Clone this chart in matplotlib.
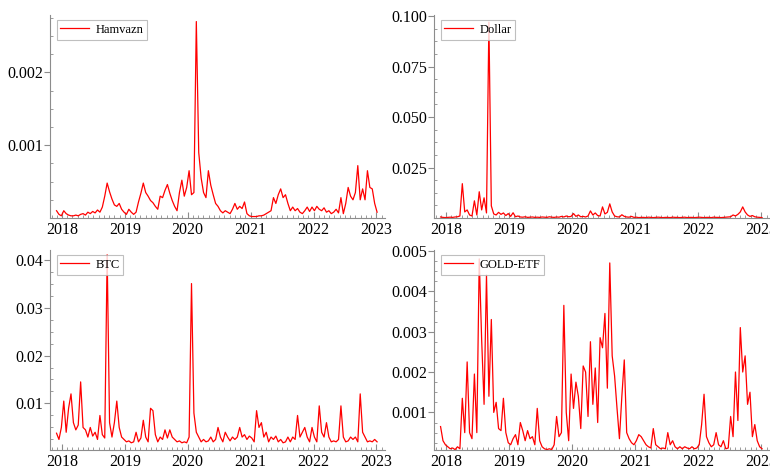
import numpy as np
import pandas as pd
import matplotlib
matplotlib.use('Agg')
import matplotlib.pyplot as plt
import matplotlib.dates as mdates
from matplotlib.ticker import FixedLocator, AutoMinorLocator, FormatStrFormatter

plt.rcParams['font.family'] = ['Liberation Serif', 'DejaVu Serif']

# two-week observations, first one on 2017-11-30
start = '2017-11-30'

# Hamvazn, units of 1e-4
hamvazn = np.array([
    1.0, 0.5, 0.3, 1.0, 0.6, 0.4, 0.3, 0.3, 0.4, 0.3,
    0.5, 0.6, 0.4, 0.8, 0.6, 0.9, 0.7, 1.1, 0.8, 1.5,
    3.0, 4.8, 3.6, 2.6, 1.8, 1.6, 2.0, 1.2, 0.8, 0.5,
    1.2, 0.8, 0.5, 0.8, 2.2, 3.4, 4.8, 3.5, 3.0, 2.4,
    2.1, 1.6, 1.2, 3.0, 2.8, 3.8, 4.6, 3.4, 2.4, 1.6,
    1.0, 3.5, 5.2, 3.0, 4.2, 6.5, 3.2, 3.5, 27.0, 9.0,
    5.5, 3.5, 2.8, 6.5, 4.5, 3.2, 2.0, 1.6, 1.0, 0.7,
    1.0, 0.8, 0.6, 1.2, 2.0, 1.2, 1.6, 1.3, 2.2, 0.6,
    0.3, 0.2, 0.2, 0.2, 0.3, 0.3, 0.4, 0.6, 0.8, 1.0,
    2.8, 2.0, 3.2, 4.0, 2.8, 3.2, 2.0, 1.0, 1.5, 1.0,
    1.3, 0.8, 0.6, 1.0, 1.5, 0.9, 1.5, 1.0, 1.6, 1.2,
    1.0, 1.4, 0.8, 1.0, 0.6, 0.8, 1.2, 0.7, 2.8, 0.6,
    2.0, 4.2, 3.0, 2.5, 3.5, 7.2, 2.5, 4.0, 2.5, 6.5,
    4.2, 4.0, 2.0, 0.8]) * 1e-4

# Dollar, units of 1e-3
dollar = np.array([
    0.5, 0.3, 0.2, 0.3, 0.4, 0.3, 0.5, 0.6, 1.0, 17.0,
    3.0, 4.0, 1.5, 1.0, 8.5, 1.5, 13.0, 4.0, 10.0, 2.5,
    97.0, 6.0, 2.0, 1.5, 2.8, 1.8, 2.5, 1.2, 2.2, 0.8,
    2.6, 0.6, 1.0, 0.5, 0.4, 0.6, 0.3, 0.4, 0.5, 0.3,
    0.4, 0.3, 0.5, 0.4, 0.3, 0.6, 0.4, 0.3, 0.5, 0.4,
    0.8, 0.5, 1.0, 0.6, 0.8, 2.2, 0.8, 1.5, 0.6, 0.8,
    0.5, 1.0, 3.5, 1.5, 2.5, 1.2, 1.0, 5.5, 2.0, 2.8,
    7.0, 3.0, 1.0, 0.6, 0.5, 1.6, 0.8, 0.5, 0.4, 0.8,
    0.3, 0.4, 0.2, 0.3, 0.3, 0.2, 0.4, 0.3, 0.2, 0.3,
    0.4, 0.3, 0.2, 0.3, 0.3, 0.2, 0.4, 0.3, 0.3, 0.2,
    0.3, 0.4, 0.2, 0.3, 0.3, 0.2, 0.3, 0.4, 0.3, 0.2,
    0.3, 0.3, 0.2, 0.4, 0.3, 0.3, 0.2, 0.3, 0.4, 0.5,
    0.6, 1.5, 1.0, 1.8, 3.0, 5.5, 3.0, 1.5, 0.8, 1.2,
    0.6, 0.4, 0.3, 0.2]) * 1e-3

# BTC, units of 1e-3
btc = np.array([
    3.8, 2.5, 5.0, 10.5, 4.0, 9.0, 12.0, 6.0, 4.5, 5.5,
    14.5, 5.0, 4.5, 3.0, 5.0, 3.2, 4.0, 2.5, 7.5, 3.5,
    2.8, 41.0, 6.0, 3.0, 6.0, 10.5, 5.0, 3.0, 2.5, 2.0,
    2.2, 1.8, 2.0, 4.0, 2.0, 2.8, 6.5, 3.0, 2.0, 9.0,
    8.5, 3.5, 2.0, 3.0, 2.5, 4.5, 2.8, 4.5, 3.0, 2.5,
    2.0, 2.2, 1.8, 2.0, 1.8, 3.0, 35.0, 8.0, 4.0, 3.0,
    2.0, 2.5, 2.0, 2.2, 3.0, 2.0, 2.5, 5.0, 3.0, 2.0,
    4.0, 3.0, 2.2, 3.0, 2.5, 3.0, 5.0, 3.0, 3.5, 2.5,
    3.2, 2.8, 2.0, 8.5, 5.0, 6.0, 3.0, 4.0, 2.0, 3.0,
    2.5, 3.2, 2.0, 2.5, 1.8, 2.0, 3.0, 2.0, 3.0, 2.5,
    7.5, 3.0, 4.0, 5.0, 3.0, 2.0, 5.0, 3.0, 2.0, 9.5,
    4.0, 3.0, 6.0, 3.0, 2.0, 2.2, 2.0, 2.5, 9.5, 3.0,
    2.0, 2.2, 3.0, 2.5, 3.0, 2.0, 12.0, 4.0, 3.0, 2.0,
    2.2, 2.0, 2.5, 2.0]) * 1e-3

# GOLD-ETF, units of 1e-4
gold_etf = np.array([
    6.5, 3.0, 2.0, 1.5, 1.0, 1.2, 0.8, 1.5, 1.0, 13.5,
    5.0, 22.5, 5.0, 3.5, 19.5, 5.0, 48.0, 28.0, 12.0, 44.0,
    14.0, 33.0, 10.0, 12.5, 6.0, 5.5, 13.5, 5.0, 2.5, 2.0,
    3.5, 4.5, 2.0, 7.5, 5.5, 3.0, 5.5, 3.5, 4.0, 2.0,
    11.0, 3.0, 1.5, 1.0, 0.8, 1.0, 0.8, 2.0, 9.0, 4.0,
    5.0, 36.5, 10.0, 3.0, 19.5, 11.0, 17.5, 14.0, 6.0, 21.5,
    20.0, 9.0, 27.5, 12.0, 21.0, 7.5, 28.5, 26.0, 34.5, 16.0,
    47.0, 24.0, 19.0, 11.0, 3.5, 14.0, 23.0, 5.0, 3.5, 2.5,
    2.0, 3.0, 4.5, 4.0, 3.0, 2.0, 1.5, 1.2, 6.0, 2.0,
    1.5, 1.0, 1.2, 1.0, 5.0, 2.0, 3.0, 1.5, 1.0, 1.5,
    1.0, 1.5, 1.2, 1.0, 1.5, 1.0, 1.2, 2.0, 7.0, 14.5,
    4.0, 2.5, 1.5, 2.0, 5.0, 2.0, 1.5, 3.0, 1.0, 1.2,
    9.0, 4.0, 20.0, 8.0, 31.0, 20.0, 24.0, 12.0, 15.0, 4.0,
    7.0, 3.0, 1.5, 1.0]) * 1e-4

hamvazn_ticks = [0.001, 0.002]
dollar_ticks = [0.025, 0.050, 0.075, 0.100]
btc_ticks = [0.01, 0.02, 0.03, 0.04]
gold_ticks = [0.001, 0.002, 0.003, 0.004, 0.005]

axis_grey = '#8c8c8c'


def panel(ax, values, name, ylim, ticks, fmt):
    dates = pd.date_range(start, periods=len(values), freq='14D')
    ax.plot(dates, values, color='#ff0000', lw=0.9, label=name)
    ax.set_xlim(pd.Timestamp('2017-10-23'), pd.Timestamp('2023-02-20'))
    ax.set_ylim(*ylim)

    ax.xaxis.set_major_locator(mdates.YearLocator())
    ax.xaxis.set_major_formatter(mdates.DateFormatter('%Y'))
    ax.xaxis.set_minor_locator(mdates.MonthLocator())
    ax.yaxis.set_major_locator(FixedLocator(ticks))
    ax.yaxis.set_major_formatter(FormatStrFormatter(fmt))
    ax.yaxis.set_minor_locator(AutoMinorLocator(4))

    for side in ['top', 'right']:
        ax.spines[side].set_visible(False)
    for side in ['left', 'bottom']:
        ax.spines[side].set_color(axis_grey)
        ax.spines[side].set_linewidth(0.8)

    ax.tick_params(axis='y', which='major', direction='out', length=4,
                   color=axis_grey, labelsize=11.5, pad=1)
    ax.tick_params(axis='y', which='minor', direction='in', length=2.5,
                   color=axis_grey)
    ax.tick_params(axis='x', which='major', direction='in', length=4,
                   color=axis_grey, labelsize=11.5, pad=3)
    ax.tick_params(axis='x', which='minor', direction='in', length=2.5,
                   color=axis_grey)

    leg = ax.legend(loc='upper left', bbox_to_anchor=(0.02, 0.975),
                    fontsize=9, frameon=True, fancybox=False,
                    borderpad=0.3, handlelength=2.3, handletextpad=0.5,
                    borderaxespad=0)
    leg.get_frame().set_edgecolor('#b0b0b0')
    leg.get_frame().set_linewidth(0.8)


fig = plt.figure(figsize=(7.7, 4.7), dpi=100)
ax1 = fig.add_axes([50 / 770, 252 / 470, 335 / 770, 203 / 470])
ax2 = fig.add_axes([434 / 770, 252 / 470, 336 / 770, 203 / 470])
ax3 = fig.add_axes([50 / 770, 20 / 470, 335 / 770, 200 / 470])
ax4 = fig.add_axes([434 / 770, 20 / 470, 336 / 770, 200 / 470])

panel(ax1, hamvazn, 'Hamvazn', (0, 0.00279), hamvazn_ticks, '%.3f')
panel(ax2, dollar, 'Dollar', (0, 0.1005), dollar_ticks, '%.3f')
panel(ax3, btc, 'BTC', (0.0003, 0.042), btc_ticks, '%.2f')
panel(ax4, gold_etf, 'GOLD-ETF', (0.00007, 0.00502), gold_ticks, '%.3f')

fig.savefig('out.png', dpi=100)
